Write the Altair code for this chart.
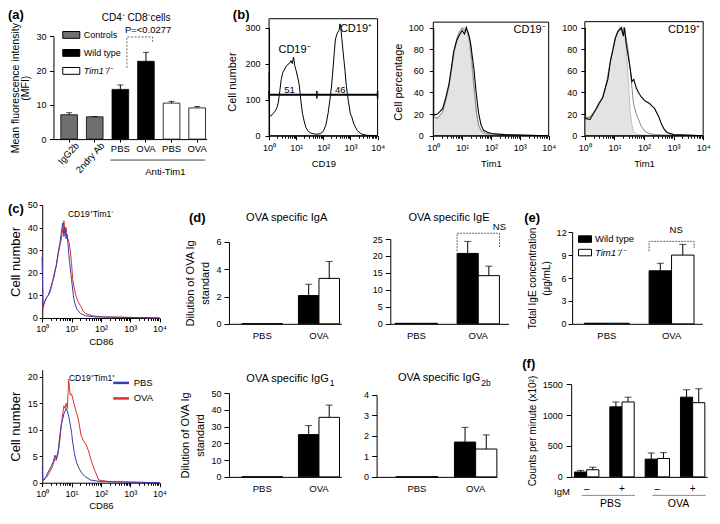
import altair as alt
import pandas as pd

FONT = "Liberation Sans"
NARROW = "Liberation Sans Narrow, Liberation Sans"
BLUE = "#3b3bb3"
RED = "#d9322b"
GENO = ["Wild type", "Tim1⁻/⁻"]
LEG_A = ["Controls", "Wild type", "Tim1⁻/⁻"]
DECADES = [1, 10, 100, 1000, 10000]
MINOR = [2, 3, 4, 5, 6, 7, 8, 9, 20, 30, 40, 50, 60, 70, 80, 90,
         200, 300, 400, 500, 600, 700, 800, 900, 2000, 3000, 4000, 5000, 6000, 7000, 8000, 9000]
LOGEXPR = ("datum.value == 1 ? '10⁰' : datum.value == 10 ? '10¹' : "
           "datum.value == 100 ? '10²' : datum.value == 1000 ? '10³' : '10⁴'")
ITALIC = alt.ExprRef(expr="datum.label == 'Tim1⁻/⁻' ? 'italic' : 'normal'")
ONE = pd.DataFrame({"k": [10]})

# ---------------- (a) MFI ----------------
a_cats = ["IgG2b", "2ndry Ab", "PBS-WT", "OVA-WT", "PBS-KO", "OVA-KO"]
a_groups = ["Controls", "Controls", "Wild type", "Wild type", "Tim1⁻/⁻", "Tim1⁻/⁻"]
a_mfi = [7.1, 6.5, 14.5, 22.7, 10.5, 9.1]
a_err = [0.6, 0.1, 1.3, 2.6, 0.5, 0.4]
a_rotated = ["IgG2b", "2ndry Ab"]
a_bracket_y = [20.8, 29.8, 29.8, 28.4]

# ---------------- (b) histograms ----------------
cd19_x = [1.0, 1.04, 1.2, 1.4, 1.7, 2.0, 2.2, 2.5, 2.8, 3.2, 3.8, 4.5, 5.5, 6.5, 7.2, 8.0, 8.8, 10, 11.5, 13,
          15, 17, 20, 23, 28, 35, 45, 60, 80, 100, 125, 150, 175, 200, 230, 260, 280, 330, 380, 410,
          440, 480, 540, 630, 700, 830, 1000, 1100, 1300, 1450, 1800, 2500, 4000, 10000]
cd19_n = [175, 55, 55, 62, 68, 80, 92, 125, 155, 175, 185, 195, 200, 208, 200, 218, 195, 180, 160, 140,
          95, 62, 38, 22, 12, 7, 5, 4, 6, 12, 30, 62, 100, 135, 190, 240, 268, 285, 292, 310,
          300, 270, 230, 180, 140, 98, 60, 54, 35, 27, 14, 5, 1, 0]

b2_black_x = [1, 1.4, 2.1, 2.7, 3.5, 4.2, 5.1, 6.5, 8, 10, 12, 14, 16, 18, 20, 22, 26, 30, 37, 45, 55, 80, 105, 300, 1000, 10000]
b2_black_y = [19, 20, 25, 35, 48, 62, 78, 88, 93, 97, 94, 100, 95, 90, 84, 75, 60, 42, 21, 10, 5, 3, 2, 1, 0.5, 0]
b2_gray_x = [1, 1.4, 2.1, 2.7, 3.5, 4.2, 5.1, 6.5, 8, 10, 12, 14, 16, 18, 20, 23, 27, 32, 38, 48, 70, 150, 10000]
b2_gray_y = [17, 16, 22, 33, 46, 60, 76, 90, 96, 100, 97, 98, 96, 92, 80, 62, 40, 20, 9, 4, 2, 1, 0]
b2_fill_x = [1, 1.4, 2.1, 2.7, 3.5, 4.2, 5.1, 6.5, 8, 10, 12, 14, 16, 18, 20, 23, 27, 32, 38, 48, 70, 150, 10000]
b2_fill_y = [17, 17, 21, 32, 45, 58, 74, 88, 95, 99, 100, 97, 92, 84, 72, 55, 35, 18, 8, 3, 1, 0.5, 0]

b3_fill_x = [1, 1.5, 2.3, 3, 4, 5, 6, 7.3, 9, 10.7, 13, 15, 18, 20, 23, 27, 31, 34, 39, 44, 55, 80, 10000]
b3_fill_y = [16, 18, 24, 28, 35, 45, 55, 69, 80, 90, 97, 100, 95, 100, 90, 68, 42, 22, 10, 4, 1.5, 0.5, 0]
b3_gray_x = [1, 1.5, 2.3, 3, 4, 5, 6, 7.3, 9, 10.7, 13, 15, 18, 20, 23, 27, 31, 35, 39, 44, 55, 65, 80, 107, 150, 224, 500, 10000]
b3_gray_y = [17, 17, 23, 29, 36, 44, 56, 68, 81, 91, 96, 99, 97, 100, 95, 85, 72, 58, 45, 30, 20, 15, 9, 4, 2, 1, 0.5, 0]
b3_black_x = [1, 1.5, 2.3, 3, 4, 5, 6, 7.3, 9, 10.7, 13, 15, 17, 20, 22, 25, 30, 35, 39, 45, 55, 65, 80, 110, 150,
              178, 230, 320, 400, 480, 600, 1000, 3000, 10000]
b3_black_y = [16, 15, 24, 30, 35, 45, 52, 69, 80, 90, 96, 98, 100, 92, 100, 85, 72, 60, 50, 52, 44, 40, 36, 32, 30,
              28, 25, 17, 10, 6, 3, 1, 0.5, 0]

# ---------------- (c) CD86 histograms ----------------
ct_blue_x = [1, 1.05, 1.2, 1.4, 1.6, 1.8, 2.1, 2.4, 2.7, 3.0, 3.5, 4.0, 4.5, 5.0, 5.5, 6.0, 6.5, 7.0, 7.5, 8.5,
             10, 11.5, 12.6, 15, 20, 30, 60, 10000]
ct_blue_y = [27, 5, 7, 9, 10, 12, 15, 17, 20, 23, 29, 33, 38, 42, 36, 40, 35, 37, 33, 25,
             17, 10, 7, 4, 2, 1, 0.5, 0]
ct_red_x = [1, 1.05, 1.2, 1.4, 1.6, 1.8, 2.1, 2.4, 2.7, 3.0, 3.5, 4.0, 4.5, 5.0, 5.5, 6.0, 6.5, 7.0, 8.0, 9.0,
            10, 11, 12, 14, 17, 21, 25, 30, 50, 100, 10000]
ct_red_y = [27, 4, 7, 9, 10, 11, 14, 18, 21, 23, 28, 32, 35, 39, 43, 38, 40, 36, 34, 30,
            24, 17, 14, 10, 7, 5, 3, 2, 1, 0.5, 0]
cb_blue_x = [1, 1.05, 1.3, 1.6, 2, 2.4, 2.7, 3, 3.5, 4, 4.5, 5, 5.5, 6, 6.6, 7.2, 8, 9, 10, 11,
             12.5, 14.5, 17, 21, 28, 45, 100, 10000]
cb_blue_y = [3, 0.5, 1, 2, 3, 4, 5.2, 4.5, 6, 9, 11, 12, 13, 13.5, 14, 13.5, 12.5, 11, 9.5, 7.5,
             5.5, 4, 3, 2, 1.2, 0.5, 0.2, 0]
cb_red_x = [1, 1.05, 1.3, 1.6, 2, 2.4, 2.7, 3, 3.5, 4, 4.5, 5, 5.5, 6, 6.6, 7.2, 8, 9, 10, 12,
            14.5, 17, 21, 25, 31, 38, 45, 51, 65, 85, 200, 10000]
cb_red_y = [2, 0.3, 0.8, 1.5, 2.5, 3.5, 4.5, 4.2, 5.5, 8, 11, 13, 14.5, 14, 15, 14, 19.5, 16.5, 16.7, 15,
            13.3, 12, 9, 8, 7.2, 6, 4.5, 3.5, 2, 0.5, 0.2, 0]

# ---------------- (d) OVA specific Ig, (e) total IgE ----------------
d_catlist = ["PBS", "OVA"]
d_cats = ["PBS", "PBS", "OVA", "OVA"]
iga_mean = [0, 0, 2.07, 3.33]
iga_err = [0, 0, 0.83, 1.24]
ige_mean = [0.15, 0.15, 20.75, 14.2]
ige_err = [0, 0, 3.55, 2.8]
ige_ns_y = [21.4, 26.7, 26.7, 22.4]
igg1_mean = [0, 0, 25.2, 35.5]
igg1_err = [0, 0, 5.4, 7.3]
igg2b_mean = [0, 0, 1.7, 1.36]
igg2b_err = [0, 0, 0.72, 0.69]
tige_mean = [0.08, 0.08, 6.94, 9.0]
tige_err = [0, 0, 0.99, 1.4]
tige_ns_y = [9.5, 10.8, 10.8, 9.95]

# ---------------- (f) proliferation ----------------
f_catlist = ["PBS-", "PBS+", "OVA-", "OVA+"]
f_cats = ["PBS-", "PBS-", "PBS+", "PBS+", "OVA-", "OVA-", "OVA+", "OVA+"]
f_mean = [78, 115, 1134, 1213, 287, 298, 1291, 1202]
f_err = [27, 42, 79, 78, 100, 94, 120, 225]

# ---------------- page geometry (reference pixel -> plot pixel) ----------------
W, H = 704, 504
SX, SY = 702 / 718, 502 / 515


def px(x):
    return round((x - 2) * SX, 2)


def py(y):
    return round((y - 2) * SY, 2)


# ---------------- helpers ----------------
def txt(t, x, y, size=9.5, align="center", weight="normal", font=FONT, baseline="middle", angle=0):
    return alt.Chart(pd.DataFrame({"t": [t]})).mark_text(
        align=align, baseline=baseline, fontSize=size, fontWeight=weight, font=font,
        color="black", angle=angle
    ).encode(x=alt.value(px(x)), y=alt.value(py(y)), text="t:N")


def frame(x0, x1, y0, y1):
    return alt.Chart(ONE).mark_rect(filled=False, color="black", strokeWidth=1).encode(
        x=alt.value(px(x0)), x2=alt.value(px(x1)), y=alt.value(py(y0)), y2=alt.value(py(y1)))


def left_axis(x0, vals, title=None, tpad=6, tsize=11, lh=None, tick=4, lpad=3):
    kw = dict(orient="left", offset=-px(x0), values=vals, titlePadding=tpad, titleFontSize=tsize,
              tickSize=tick, labelPadding=lpad, labelFontSize=9, format="d", grid=False, title=title)
    if lh is not None:
        kw["titleLineHeight"] = lh
    return alt.Axis(**kw)


def bottom_axis(yb, **kw):
    return alt.Axis(orient="bottom", offset=-round(H - py(yb), 2), grid=False, **kw)


def log_axis(yb, title, lpad=4, tpad=6):
    return bottom_axis(yb, values=DECADES, labelExpr=LOGEXPR, title=title, labelFlush=False,
                       tickSize=4, labelPadding=lpad, titlePadding=tpad, labelFontSize=9,
                       titleFontSize=9.5)


def lin_y(field, dom, r0, r1, axis=None):
    return alt.Y(f"{field}:Q", scale=alt.Scale(domain=dom, range=[py(r0), py(r1)], nice=False, zero=False),
                 axis=axis)


def log_x(field, x0, x1, axis=None):
    return alt.X(f"{field}:Q", scale=alt.Scale(type="log", domain=[1, 10000], range=[px(x0), px(x1)],
                                               nice=False), axis=axis)


def minor_ticks(x0, x1, yb):
    ax = bottom_axis(yb, values=MINOR, labels=False, tickSize=2.5, domain=False, title=None)
    return alt.Chart(ONE).mark_point(opacity=0).encode(x=log_x("k", x0, x1, ax), y=alt.value(0))


def line(xs, ys, X, Y, color, width=1.0):
    return alt.Chart(pd.DataFrame({"x": xs, "y": ys})).mark_line(
        color=color, strokeWidth=width).encode(x=X, y=Y)


def area(xs, ys, X, Y):
    return alt.Chart(pd.DataFrame({"x": xs, "y": ys})).mark_area(
        color="#e3e3e3", stroke="#b4b4b4", strokeWidth=0.8).encode(x=X, y=Y)


XO = alt.XOffset("geno:N", scale=alt.Scale(domain=GENO, paddingInner=0, paddingOuter=0))


def grouped(cat_list, cats, means, errs, x0, x1, pi, po, al, ydom, r0, r1, yaxis, xaxis=None, legend=None):
    genos = [GENO[i % 2] for i in range(len(cats))]
    df = pd.DataFrame({"cat": cats, "geno": genos, "v": means, "e": errs})
    df["top"] = df["v"] + df["e"]
    if xaxis is None:
        xaxis = bottom_axis(r0, title=None, ticks=False, labelAngle=0, labelPadding=7, labelFontSize=9.5)

    def X(f, ax=None):
        return alt.X(f"{f}:N", scale=alt.Scale(domain=cat_list, range=[px(x0), px(x1)], paddingInner=pi,
                                               paddingOuter=po, align=al), axis=ax)

    def Y(f, ax=None):
        return lin_y(f, ydom, r0, r1, ax)

    col = alt.Color("geno:N", scale=alt.Scale(domain=GENO, range=["#000000", "#ffffff"]), legend=legend)
    bars = alt.Chart(df).mark_bar(stroke="black", strokeWidth=1).encode(
        x=X("cat", xaxis), xOffset=XO, y=Y("v", yaxis), color=col)
    de = df[df["e"] > 0]
    rules = alt.Chart(de).mark_rule(color="black", strokeWidth=1).encode(
        x=X("cat"), xOffset=XO, y=Y("v"), y2="top:Q")
    caps = alt.Chart(de).mark_tick(color="black", size=7, thickness=1).encode(
        x=X("cat"), xOffset=XO, y=Y("top"))
    return [bars, rules, caps], X, Y


def bracket(ys, X, Y):
    df = pd.DataFrame({"cat": ["OVA"] * 4, "geno": [GENO[0], GENO[0], GENO[1], GENO[1]],
                       "y": ys, "o": [0, 1, 2, 3]})
    return alt.Chart(df).mark_line(color="#666666", strokeWidth=1, strokeDash=[2, 1]).encode(
        x=X("cat"), xOffset=XO, y=Y("y"), order="o:Q")


layers = []

# ---------------- (a) ----------------
dfa = pd.DataFrame({"cat": a_cats, "grp": a_groups, "v": a_mfi, "e": a_err})
dfa["top"] = dfa["v"] + dfa["e"]


def XA(f, ax=None):
    return alt.X(f"{f}:N", scale=alt.Scale(domain=a_cats, range=[px(48.5), px(205)], paddingInner=0.35,
                                           paddingOuter=0.163, align=0.88), axis=ax)


def YA(f, ax=None):
    return lin_y(f, [0, 30], 136.5, 31, ax)


ax_ax = bottom_axis(136.5, title=None, labelAngle=0, tickSize=3, labelPadding=1, labelFontSize=9.5,
                    labelExpr="indexof(datum.value, '-') > 0 ? split(datum.value, '-')[0] : ''")
ax_ay = left_axis(48.5, [0, 10, 20, 30], ["Mean fluorescence intensity", "(MFI)"], tpad=5, tsize=10.5,
                  lh=10, tick=4, lpad=3.5)
leg_a = alt.Legend(title=None, orient="none", legendX=px(57), legendY=py(25) - 5,
                   symbolType="M-1,-0.4H1V0.4H-1Z", symbolSize=290, symbolStrokeColor="black",
                   symbolStrokeWidth=1, labelFontSize=9, labelOffset=3, rowPadding=3,
                   labelFontStyle=ITALIC)
layers += [
    alt.Chart(dfa).mark_bar(stroke="black", strokeWidth=0.8).encode(
        x=XA("cat", ax_ax), y=YA("v", ax_ay),
        color=alt.Color("grp:N", scale=alt.Scale(domain=LEG_A, range=["#6f6f6f", "#000000", "#ffffff"]),
                        legend=leg_a)),
    alt.Chart(dfa).mark_rule(color="black").encode(x=XA("cat"), y=YA("v"), y2="top:Q"),
    alt.Chart(dfa).mark_tick(color="black", size=6, thickness=1).encode(x=XA("cat"), y=YA("top")),
    alt.Chart(pd.DataFrame({"cat": ["PBS-WT", "PBS-WT", "OVA-WT", "OVA-WT"], "y": a_bracket_y,
                            "o": [0, 1, 2, 3]})).mark_line(
        color="#666666", strokeWidth=1, strokeDash=[2, 1.5]).encode(x=XA("cat"), y=YA("y"), order="o:Q"),
    alt.Chart(pd.DataFrame({"cat": ["PBS-WT"], "y": [31.8], "t": ["P=<0.0277"]})).mark_text(
        align="left", dx=-2, fontSize=9.5, font=FONT).encode(x=XA("cat"), y=YA("y"), text="t:N"),
    alt.Chart(pd.DataFrame({"cat": a_rotated})).mark_text(
        angle=312, align="right", baseline="middle", fontSize=9.5, font=FONT, dx=2).encode(
        x=XA("cat"), y=alt.value(py(143)), text="cat:N"),
    alt.Chart(pd.DataFrame({"c1": ["PBS-WT"], "c2": ["OVA-KO"]})).mark_rule(
        color="#444444", xOffset=-10, x2Offset=8).encode(x=XA("c1"), x2="c2:N", y=alt.value(py(158))),
    alt.Chart(pd.DataFrame({"c": ["OVA-WT"], "t": ["Anti-Tim1"]})).mark_text(
        dx=13, fontSize=9.5, font=FONT).encode(x=XA("c"), y=alt.value(py(170)), text="t:N"),
    txt("(a)", 2, 3.2, 13, "left", "bold", baseline="top"),
    txt("CD4⁻ CD8⁻cells", 133, 12, 10),
]

# ---------------- (b) ----------------
def XB1(ax=None):
    return log_x("x", 269, 380, ax)


def YB1(ax=None):
    return lin_y("y", [0, 300], 133, 22, ax)


layers += [
    frame(269, 380, 13, 133),
    minor_ticks(269, 380, 133),
    line(cd19_x, cd19_n, XB1(log_axis(133, "CD19")),
         YB1(left_axis(269, [0, 100, 200, 300], "Cell number", tpad=8, tsize=11, lpad=5)), "black"),
    alt.Chart(pd.DataFrame({"x": [1, 58], "x2": [58, 10000], "y": [113.5, 113.5]})).mark_rule(
        color="black", strokeWidth=2).encode(x=XB1(), x2="x2:Q", y=YB1()),
    alt.Chart(pd.DataFrame({"x": [1, 58, 10000], "y": [103, 103, 103], "y2": [124, 124, 124]})).mark_rule(
        color="black", strokeWidth=1.5).encode(x=XB1(), y=YB1(), y2="y2:Q"),
    alt.Chart(pd.DataFrame({"x": [5.7, 420], "y": [128, 128], "t": ["51", "46"]})).mark_text(
        fontSize=9.5, font=FONT).encode(x=XB1(), y=YB1(), text="t:N"),
    alt.Chart(pd.DataFrame({"x": [8.7, 1600], "y": [238, 297], "t": ["CD19⁻", "CD19⁺"]})).mark_text(
        fontSize=11, font=FONT).encode(x=XB1(), y=YB1(), text="t:N"),
    txt("(b)", 232, 3.2, 13, "left", "bold", baseline="top"),
]


def XB2(ax=None):
    return log_x("x", 437, 555, ax)


def YB2(ax=None):
    return lin_y("y", [0, 100], 133, 22, ax)


layers += [
    area(b2_fill_x, b2_fill_y, XB2(log_axis(133, "Tim1")),
         YB2(left_axis(437, [0, 20, 40, 60, 80, 100], "Cell percentage", tpad=5, tsize=11, lpad=6))),
    line(b2_gray_x, b2_gray_y, XB2(), YB2(), "#8a8a8a"),
    line(b2_black_x, b2_black_y, XB2(), YB2(), "black", 1.1),
    frame(437, 555, 16.5, 133),
    minor_ticks(437, 555, 133),
    txt("CD19⁻", 552, 25, 11, "right"),
]


def XB3(ax=None):
    return log_x("x", 592, 713, ax)


def YB3(ax=None):
    return lin_y("y", [0, 100], 133, 22, ax)


layers += [
    area(b3_fill_x, b3_fill_y, XB3(log_axis(133, "Tim1")),
         YB3(left_axis(592, [0, 20, 40, 60, 80, 100], None, lpad=4))),
    line(b3_gray_x, b3_gray_y, XB3(), YB3(), "#8a8a8a"),
    line(b3_black_x, b3_black_y, XB3(), YB3(), "black", 1.1),
    frame(592, 713, 16, 133),
    minor_ticks(592, 713, 133),
    txt("CD19⁺", 710, 25, 11, "right"),
]

# ---------------- (c) ----------------
def XC(ax=None):
    return log_x("x", 37, 157, ax)


def YCT(ax=None):
    return lin_y("y", [0, 50], 320, 204, ax)


layers += [
    line(ct_red_x, ct_red_y, XC(log_axis(320, "CD86", lpad=3, tpad=3)),
         YCT(left_axis(37, [0, 10, 20, 30, 40, 50], "Cell number", tpad=4.5, tsize=13, tick=3, lpad=2)), RED),
    line(ct_blue_x, ct_blue_y, XC(), YCT(), BLUE),
    minor_ticks(37, 157, 320),
    txt("(c)", 2, 208, 13, "left", "bold"),
    txt("CD19⁺Tim1⁻", 87, 213, 8.5, font=NARROW),
]

dcb = pd.concat([
    pd.DataFrame({"x": cb_red_x, "y": cb_red_y, "ser": "OVA"}),
    pd.DataFrame({"x": cb_blue_x, "y": cb_blue_y, "ser": "PBS"}),
])
leg_c = alt.Legend(title=None, orient="none", legendX=px(108), legendY=py(382) - 5, symbolType="stroke",
                   symbolSize=250, symbolStrokeWidth=2.5, labelFontSize=9.5, labelOffset=3, rowPadding=0.5)
layers += [
    alt.Chart(dcb).mark_line(strokeWidth=1).encode(
        x=XC(log_axis(489, "CD86", lpad=3, tpad=2)),
        y=lin_y("y", [0, 21.3], 489, 373,
                left_axis(37, [0, 5, 10, 15, 20], "Cell number", tpad=4.5, tsize=13, tick=3, lpad=2)),
        color=alt.Color("ser:N", scale=alt.Scale(domain=["PBS", "OVA"], range=[BLUE, RED]), legend=leg_c)),
    minor_ticks(37, 157, 489),
    txt("CD19⁺Tim1⁺", 88, 382, 8.5, font=NARROW),
]

# ---------------- (d) ----------------
DTITLE = ["Dilution of OVA Ig", "standard"]
L, X, Y = grouped(d_catlist, d_cats, iga_mean, iga_err, 228, 343, 0.276, 0.129, 0.87, [0, 6], 326, 242,
                  left_axis(228, [0, 2, 4, 6], DTITLE, tpad=5.5, tsize=11, lh=15, tick=5, lpad=3))
layers += L + [
    txt("(d)", 187, 217, 13, "left", "bold"),
    txt("OVA specific IgA", 287, 217, 11),
]

L, X, Y = grouped(d_catlist, d_cats, ige_mean, ige_err, 393, 514, 0.316, 0.114, 0.35, [0, 25], 326, 239,
                  left_axis(393, [0, 5, 10, 15, 20, 25], None, tick=5, lpad=3))
layers += L + [
    bracket(ige_ns_y, X, Y),
    alt.Chart(pd.DataFrame({"cat": ["OVA"], "geno": [GENO[1]], "y": [28.4], "t": ["NS"]})).mark_text(
        fontSize=9.5, font=FONT).encode(x=X("cat"), xOffset=XO, y=Y("y"), text="t:N"),
    txt("OVA specific IgE", 453, 217, 11),
]

L, X, Y = grouped(d_catlist, d_cats, igg1_mean, igg1_err, 228, 343, 0.276, 0.129, 0.87, [0, 50], 483, 397,
                  left_axis(228, [0, 10, 20, 30, 40, 50], DTITLE, tpad=5.5, tsize=11, lh=15, tick=5, lpad=3))
layers += L + [
    txt("OVA specific IgG", 330, 383, 11, "right"),
    txt("1", 331, 387, 8.5, "left"),
]

L, X, Y = grouped(d_catlist, d_cats, igg2b_mean, igg2b_err, 379, 502, 0.277, 0.163, 1.0, [0, 4], 483, 399,
                  left_axis(379, [0, 1, 2, 3, 4], None, tick=5, lpad=3))
layers += L + [
    txt("OVA specific IgG", 485, 382, 11, "right"),
    txt("2b", 486, 387, 8.5, "left"),
]

# ---------------- (e) ----------------
leg_e = alt.Legend(title=None, orient="none", legendX=px(585), legendY=py(237) - 5,
                   symbolType="M-1,-0.5H1V0.5H-1Z", symbolSize=169, symbolStrokeColor="black",
                   symbolStrokeWidth=1, labelFontSize=9.5, labelOffset=3, rowPadding=0.5,
                   labelFontStyle=ITALIC)
L, X, Y = grouped(d_catlist, d_cats, tige_mean, tige_err, 579, 712, 0.306, 0.158, 0.6, [0, 12], 326, 232,
                  left_axis(579, [0, 3, 6, 9, 12], ["Total IgE concentration", "(μg/mL)"], tpad=5,
                            tsize=10, lh=14, tick=4, lpad=2), legend=leg_e)
layers += L + [
    bracket(tige_ns_y, X, Y),
    alt.Chart(pd.DataFrame({"cat": ["OVA"], "y": [12.3], "t": ["NS"]})).mark_text(
        fontSize=9.5, font=FONT).encode(x=X("cat"), y=Y("y"), text="t:N"),
    txt("(e)", 530, 217, 13, "left", "bold"),
]

# ---------------- (f) ----------------
f_xaxis = bottom_axis(483, title="IgM", titleX=px(560), titleY=9.5, titleAlign="left", titleBaseline="top",
                      titleAngle=0, titleFontSize=9.5, ticks=False, labelAngle=0, labelPadding=7,
                      labelFontSize=10, labelExpr="indexof(datum.value, '+') >= 0 ? '+' : '–'")
L, X, Y = grouped(f_catlist, f_cats, f_mean, f_err, 578, 717, 0.31, 0.079, 0.6, [0, 1500], 483, 388,
                  left_axis(578, [0, 500, 1000, 1500], "Counts per minute (x10²)", tpad=5, tsize=10,
                            tick=5, lpad=4), xaxis=f_xaxis)
layers += L + [
    alt.Chart(pd.DataFrame({"c1": ["PBS-", "OVA-"], "c2": ["PBS+", "OVA+"]})).mark_rule(
        color="#8a8a8a", strokeWidth=1, xOffset=-5, x2Offset=13).encode(
        x=X("c1"), x2="c2:N", y=alt.value(py(502))),
    alt.Chart(pd.DataFrame({"c": ["PBS+", "OVA+"], "t": ["PBS", "OVA"]})).mark_text(
        dx=-15, fontSize=10.5, font=FONT).encode(x=X("c"), y=alt.value(py(511)), text="t:N"),
    txt("(f)", 528, 367, 13, "left", "bold"),
]

chart = alt.layer(*layers).resolve_scale(
    x="independent", y="independent", color="independent", xOffset="independent"
).resolve_axis(x="independent", y="independent").resolve_legend(color="independent").properties(
    width=W, height=H, autosize=alt.AutoSizeParams(type="none"), padding=0
).configure(font=FONT).configure_axis(
    grid=False, domainColor="black", tickColor="black", labelColor="black", titleColor="black",
    titleFontWeight="normal", labelFont=FONT, titleFont=FONT, domainWidth=1, tickWidth=1
).configure_view(stroke=None).configure_legend(labelFont=FONT, labelColor="black")

chart.save("out.html", embed_options={"renderer": "svg", "actions": False})
